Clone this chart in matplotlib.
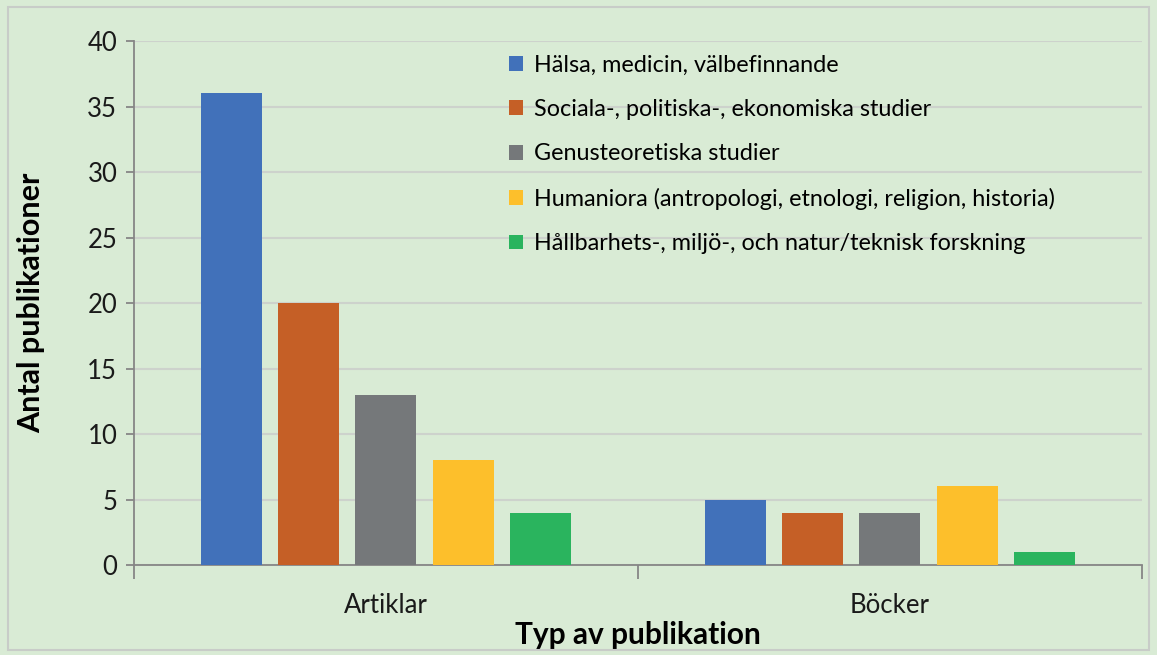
import matplotlib
matplotlib.use('Agg')
import matplotlib.pyplot as plt
import numpy as np
from matplotlib.patches import Rectangle

plt.rcParams['font.family'] = ['Lato', 'DejaVu Sans']

categories = ['Artiklar', 'Böcker']
series_names = [
    'Hälsa, medicin, välbefinnande',
    'Sociala-, politiska-, ekonomiska studier',
    'Genusteoretiska studier',
    'Humaniora (antropologi, etnologi, religion, historia)',
    'Hållbarhets-, miljö-, och natur/teknisk forskning',
]
halsa = [36, 5]
sociala = [20, 4]
genus = [13, 4]
humaniora = [8, 6]
hallbarhet = [4, 1]
series_values = [halsa, sociala, genus, humaniora, hallbarhet]
colors = ['#4171BA', '#C55F26', '#75787A', '#FDBF2B', '#2AB45E']

bg = '#D9EBD5'

fig = plt.figure(figsize=(11.57, 6.55), dpi=100, facecolor=bg)
fig.patches.append(Rectangle((0.007, 0.008), 0.986, 0.982, transform=fig.transFigure,
                             fill=False, edgecolor='#C8CCC8', linewidth=1.5))
ax = fig.add_axes([0.1158, 0.1374, 0.8712, 0.8000])
ax.set_facecolor(bg)

x = np.arange(len(categories))
step = 0.153
width = 0.121
for i, (name, vals, c) in enumerate(zip(series_names, series_values, colors)):
    ax.bar(x + (i - 2) * step, vals, width=width, color=c, label=name, zorder=3)

ax.set_xlim(-0.5, 1.5)
ax.set_ylim(0, 40)
ax.set_yticks(range(0, 41, 5))
ax.yaxis.grid(True, color='#CDD2CC', linewidth=1.5, zorder=0)
ax.set_axisbelow(True)

for s in ['top', 'right']:
    ax.spines[s].set_visible(False)
for s in ['left', 'bottom']:
    ax.spines[s].set_color('#868686')
    ax.spines[s].set_linewidth(1.3)

ax.set_xticks(x)
ax.set_xticklabels(categories, fontsize=18.5, color='#1A1A1A')
ax.tick_params(axis='x', which='major', length=0, pad=20)
ax.set_xticks([-0.5, 0.5, 1.5], minor=True)
ax.tick_params(axis='x', which='minor', length=10, color='#868686', width=1.3)
ax.tick_params(axis='y', labelsize=18.5, length=6, color='#868686', width=1.3,
               labelcolor='#1A1A1A', pad=6)

ax.set_xlabel('Typ av publikation', fontsize=21.5, fontweight='bold', labelpad=2.5)
ax.set_ylabel('Antal publikationer', fontsize=22, fontweight='bold', labelpad=30)

ax.legend(loc='upper left', bbox_to_anchor=(0.356, 1.005), frameon=False,
          fontsize=16.8, handlelength=0.6, handleheight=0.6, handletextpad=0.45,
          labelspacing=1.0, borderaxespad=0.3)

fig.savefig('out.png', dpi=100, facecolor=bg)
